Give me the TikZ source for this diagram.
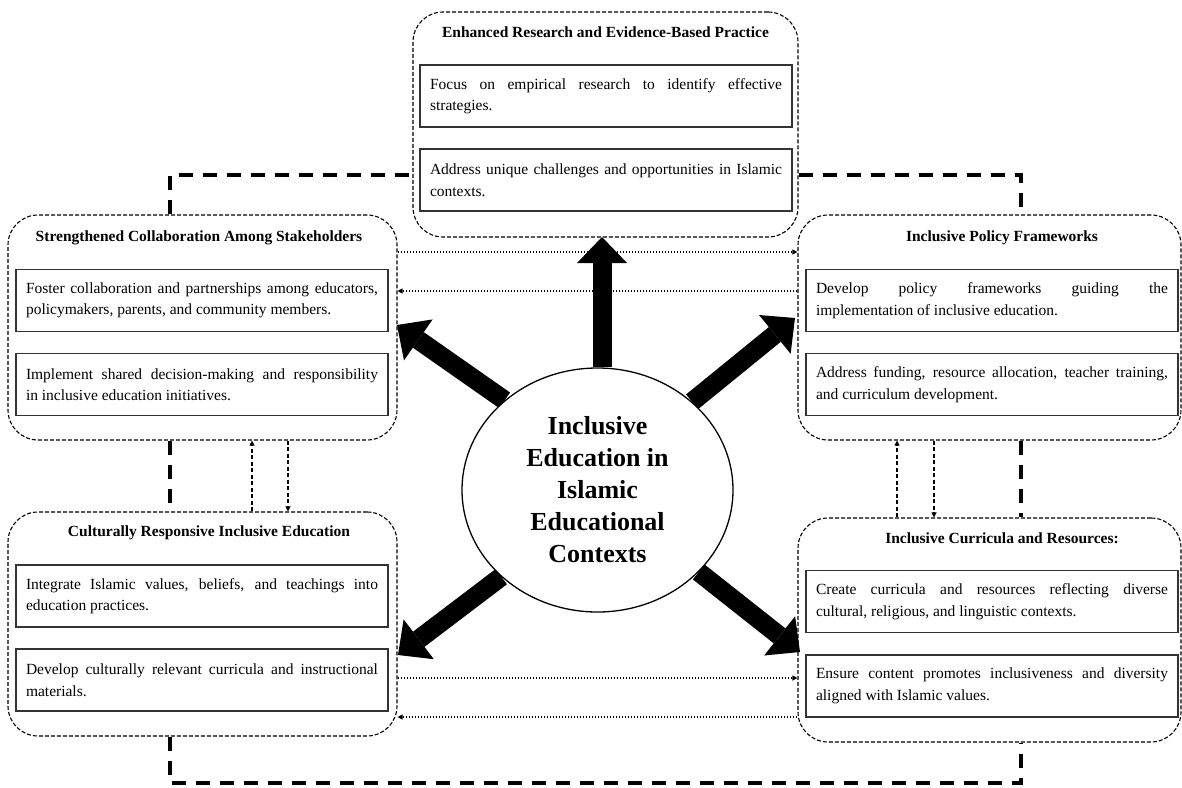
\documentclass[tikz,border=0pt]{standalone}
\usepackage{fontspec}
\setmainfont{Liberation Serif}
\usetikzlibrary{arrows.meta,positioning,shapes.geometric,backgrounds}

\begin{document}
\begin{tikzpicture}[x=1pt,y=-1pt,
		group/.style={draw,dash pattern=on 4pt off 2pt,line width=1.1pt,rounded corners=30pt,minimum width=#1,minimum height=225pt,inner sep=0pt},
		title/.style={font=\bfseries\fontsize{15.5}{18}\selectfont},
		item/.style={draw=black!80,line width=1.1pt,text width=352pt,inner xsep=10pt,minimum height=62pt,align=justify,font=\fontsize{15.5}{21.5}\selectfont},
		core/.style={ellipse,draw,line width=1.3pt,fill=white,minimum width=271pt,minimum height=244pt,inner sep=0pt,align=center,font=\bfseries\fontsize{26}{32}\selectfont},
		bigarrow/.style={line width=19pt,-{Triangle[length=26pt,width=50pt,line width=0pt]}},
		link/.style={line width=4pt,dash pattern=on 14pt off 10pt},
		dotarrow/.style={line width=1.1pt,dash pattern=on 1.5pt off 1.5pt,-{Triangle[length=5pt,width=5pt]}},
		dasharrow/.style={line width=1.1pt,dash pattern=on 4pt off 2.5pt,-{Triangle[length=5pt,width=5pt]}}]
		\useasboundingbox (0,0) rectangle (1182,787);

		\node[group=385pt] (er) at (605.5,124.5) {};
		\node[title] (erT) at (605.5,32) {Enhanced Research and Evidence-Based Practice};
		\node[item] (er1) at (606,96) {Focus on empirical research to identify effective\linebreak strategies.};
		\node[item] (er2) at (606,180) {Address unique challenges and opportunities in Islamic\linebreak contexts.};

		\node[group=389pt] (sc) at (202.5,327.5) {};
		\node[title] (scT) at (199,238) {Strengthened Collaboration Among Stakeholders};
		\node[item] (sc1) at (202,300.5) {Foster collaboration and partnerships among educators,\linebreak policymakers, parents, and community members.};
		\node[item] (sc2) at (202,384.5) {Implement shared decision-making and responsibility\linebreak in inclusive education initiatives.};

		\node[group=383pt] (pf) at (989.5,327.5) {};
		\node[title] (pfT) at (1002,238) {Inclusive Policy Frameworks};
		\node[item] (pf1) at (992,300.5) {Develop policy frameworks guiding the\linebreak implementation of inclusive education.};
		\node[item] (pf2) at (992,384.5) {Address funding, resource allocation, teacher training,\linebreak and curriculum development.};

		\node[group=389pt,minimum height=224pt] (cr) at (202.5,624) {};
		\node[title] (crT) at (209,533) {Culturally Responsive Inclusive Education};
		\node[item] (cr1) at (202,596) {Integrate Islamic values, beliefs, and teachings into\linebreak education practices.};
		\node[item] (cr2) at (202,680) {Develop culturally relevant curricula and instructional\linebreak materials.};

		\node[group=383pt,minimum height=224pt] (cu) at (989.5,630) {};
		\node[title] (cuT) at (1002,538) {Inclusive Curricula and Resources:};
		\node[item] (cu1) at (992,601.5) {Create curricula and resources reflecting diverse\linebreak cultural, religious, and linguistic contexts.};
		\node[item] (cu2) at (992,686) {Ensure content promotes inclusiveness and diversity\linebreak aligned with Islamic values.};

		\node[core] (ie) at (597.5,490) {Inclusive\\Education in\\Islamic\\Educational\\Contexts};

		\coordinate (tipN) at (602,237);
		\coordinate (tipNW) at (397,325);
		\coordinate (tipNE) at (795,318);
		\coordinate (tipSW) at (398,655);
		\coordinate (tipSE) at (800,652);
		\begin{scope}[on background layer]
			\draw[bigarrow] (ie.north -| tipN) -- (tipN);
			\draw[bigarrow] (ie.136) -- (tipNW);
			\draw[bigarrow] (ie.43) -- (tipNE);
			\draw[bigarrow] (ie.222) -- (tipSW);
			\draw[bigarrow] (ie.321) -- (tipSE);
		\end{scope}

		\coordinate (jL) at (170,175);
		\coordinate (jR) at (1021,175);
		\coordinate (jBL) at (170,783);
		\coordinate (jBR) at (1021,783);
		\draw[link] (sc.north -| jL) -- (jL) -- (er.west |- jL);
		\draw[link] (er.east |- jR) -- (jR) -- (pf.north -| jR);
		\draw[link] (sc.south -| jL) -- (cr.north -| jL);
		\draw[link] (pf.south -| jR) -- (cu.north -| jR);
		\draw[link] (cr.south -| jL) -- (jBL) -- (jBR) -- (cu.south -| jR);

		\coordinate (rA) at (0,252);
		\coordinate (rB) at (0,291);
		\coordinate (rC) at (0,678);
		\coordinate (rD) at (0,717);
		\draw[dotarrow] (sc.east |- rA) -- (pf.west |- rA);
		\draw[dotarrow] (pf.west |- rB) -- (sc.east |- rB);
		\draw[dotarrow] (cr.east |- rC) -- (cu.west |- rC);
		\draw[dotarrow] (cu.west |- rD) -- (cr.east |- rD);

		\coordinate (cA) at (252,0);
		\coordinate (cB) at (288,0);
		\coordinate (cC) at (897,0);
		\coordinate (cD) at (934,0);
		\draw[dasharrow] (cr.north -| cA) -- (sc.south -| cA);
		\draw[dasharrow] (sc.south -| cB) -- (cr.north -| cB);
		\draw[dasharrow] (cu.north -| cC) -- (pf.south -| cC);
		\draw[dasharrow] (pf.south -| cD) -- (cu.north -| cD);
\end{tikzpicture}
\end{document}
